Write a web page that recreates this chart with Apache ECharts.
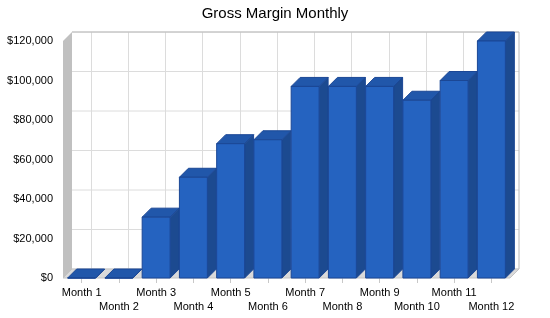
<!DOCTYPE html>
<html>
<head>
<meta charset="utf-8">
<script src="https://cdn.jsdelivr.net/npm/echarts@6/dist/echarts.min.js"></script>
<style>
  html, body { margin: 0; padding: 0; background: #fff; }
  #gross-margin-chart { width: 550px; height: 318px; }
</style>
</head>
<body>
<div id="gross-margin-chart"></div>
<script>
// Gross margin by month

var months = ['Month 1', 'Month 2', 'Month 3', 'Month 4', 'Month 5', 'Month 6',
  'Month 7', 'Month 8', 'Month 9', 'Month 10', 'Month 11', 'Month 12'];
var grossMargin = [0, 0, 30800, 51000, 68000, 70000, 97000, 97000, 97000, 90000, 100000, 120000];
var yTicks = [0, 20000, 40000, 60000, 80000, 100000, 120000];

// depth of the fake 3d effect, in pixels
var depth = 9;

function money(v) {
  return '$' + v.toString().replace(/\B(?=(\d{3})+(?!\d))/g, ',');
}

var myChart = echarts.init(document.getElementById('gross-margin-chart'));

// walls and floor behind the bars
function renderWalls(params, api) {
  var cs = params.coordSys;
  var left = cs.x, right = cs.x + cs.width;
  var top = api.coord([0, yTicks[yTicks.length - 1]])[1];
  var bottom = api.coord([0, 0])[1];
  var children = [];

  // back wall
  children.push({
    type: 'rect',
    shape: { x: left + depth, y: top - depth, width: right - left, height: bottom - top },
    style: { fill: '#ffffff', stroke: null }
  });
  yTicks.forEach(function (v) {
    var y = api.coord([0, v])[1] - depth;
    children.push({
      type: 'line',
      shape: { x1: left + depth, y1: y, x2: right + depth, y2: y },
      style: { stroke: '#dcdcdc', lineWidth: 1 }
    });
  });
  months.forEach(function (m, i) {
    var x = Math.round(api.coord([i, 0])[0] + depth) + 0.5;
    children.push({
      type: 'line',
      shape: { x1: x, y1: top - depth, x2: x, y2: bottom - depth },
      style: { stroke: '#dcdcdc', lineWidth: 1 }
    });
  });
  // top and right border of the back wall
  children.push({
    type: 'polyline',
    shape: { points: [[left + depth, top - depth], [right + depth, top - depth], [right + depth, bottom - depth]] },
    style: { stroke: '#b8b8b8', lineWidth: 1, fill: null }
  });
  // floor
  children.push({
    type: 'polygon',
    shape: { points: [[left, bottom], [left + depth, bottom - depth], [right + depth, bottom - depth], [right, bottom]] },
    style: { fill: '#dadada', stroke: '#c4c4c4', lineWidth: 1 }
  });
  // left side wall
  children.push({
    type: 'polygon',
    shape: { points: [[left, top], [left + depth, top - depth], [left + depth, bottom - depth], [left, bottom]] },
    style: { fill: '#c0c0c0', stroke: null }
  });
  return { type: 'group', children: children };
}

function renderBar(params, api) {
  var idx = api.value(0);
  var topPt = api.coord([idx, api.value(1)]);
  var basePt = api.coord([idx, 0]);
  var w = api.size([1, 0])[0] * 0.75;
  var x0 = topPt[0] - w / 2, x1 = topPt[0] + w / 2;
  var yt = topPt[1], yb = basePt[1];
  var edge = '#1b4795';
  return {
    type: 'group',
    children: [
      {
        type: 'polygon',
        shape: { points: [[x1, yt], [x1 + depth, yt - depth], [x1 + depth, yb - depth], [x1, yb]] },
        style: { fill: '#1c4a90', stroke: edge, lineWidth: 1 }
      },
      {
        type: 'polygon',
        shape: { points: [[x0, yt], [x0 + depth, yt - depth], [x1 + depth, yt - depth], [x1, yt]] },
        style: { fill: '#2157aa', stroke: edge, lineWidth: 1 }
      },
      {
        type: 'rect',
        shape: { x: x0, y: yt, width: w, height: yb - yt },
        style: { fill: '#2563c0', stroke: edge, lineWidth: 1 }
      }
    ]
  };
}

var option = {
  animation: false,
  textStyle: { fontFamily: 'Liberation Sans, Arial, sans-serif' },
  title: {
    text: 'Gross Margin Monthly',
    left: 'center',
    top: 1,
    textStyle: { fontSize: 15, fontWeight: 'normal', color: '#000', fontFamily: 'Liberation Sans, Arial, sans-serif' }
  },
  grid: { left: 63, top: 41, width: 447, height: 237 },
  xAxis: {
    type: 'category',
    data: months,
    axisLine: { show: false },
    axisTick: { show: true, alignWithLabel: true, length: 5, lineStyle: { color: '#c8c8c8' } },
    axisLabel: {
      interval: 0,
      margin: 8,
      fontSize: 11,
      lineHeight: 14,
      color: '#000',
      formatter: function (value, index) {
        return index % 2 ? '\n' + value : value;
      }
    },
    splitLine: { show: false }
  },
  yAxis: {
    type: 'value',
    min: 0,
    max: 120000,
    interval: 20000,
    axisLine: { show: false },
    axisTick: { show: false },
    splitLine: { show: false },
    axisLabel: { margin: 10, fontSize: 11, color: '#000', formatter: money }
  },
  series: [
    {
      type: 'custom',
      name: 'walls',
      renderItem: renderWalls,
      data: [[0, 0]],
      encode: { x: 0, y: 1 },
      z: 1,
      silent: true
    },
    {
      type: 'custom',
      name: 'Gross Margin',
      renderItem: renderBar,
      data: grossMargin.map(function (v, i) { return [i, v]; }),
      encode: { x: 0, y: 1 },
      z: 2
    }
  ]
};

myChart.setOption(option);
</script>
</body>
</html>
